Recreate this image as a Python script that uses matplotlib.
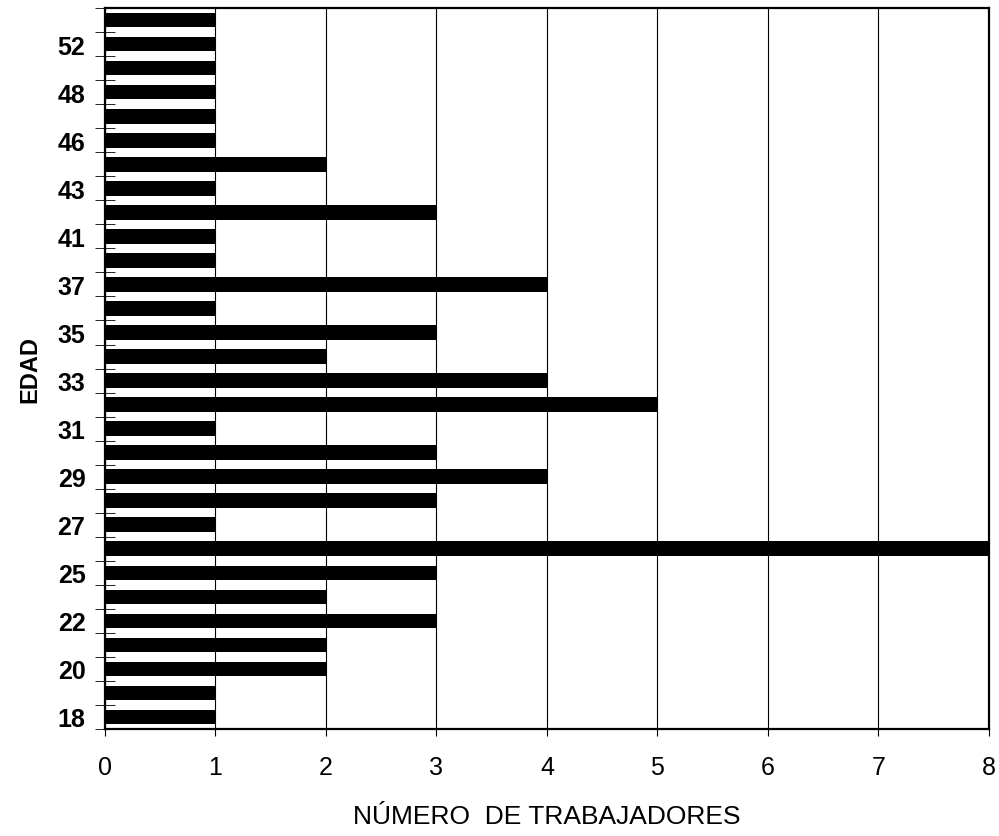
import matplotlib
matplotlib.use('Agg')
from matplotlib import pyplot as plt
from matplotlib.ticker import FixedLocator

# edades (algunas etiquetas no se ven en el original, se suponen)
edades = [18, 19, 20, 21, 22, 23, 25, 26, 27, 28, 29, 30, 31, 32, 33,
          34, 35, 36, 37, 39, 41, 42, 43, 44, 46, 47, 48, 50, 52, 53]
trabajadores = [1, 1, 2, 2, 3, 2, 3, 8, 1, 3, 4, 3, 1, 5, 4,
                2, 3, 1, 4, 1, 1, 3, 1, 2, 1, 1, 1, 1, 1, 1]
x_ticks = [0, 1, 2, 3, 4, 5, 6, 7, 8]

plt.rcParams['font.family'] = ['Liberation Sans', 'DejaVu Sans']

fig = plt.figure(figsize=(9.99, 8.37), dpi=100)
ax = fig.add_axes([0.105, 0.128, 0.885, 0.861])

pos = list(range(len(edades)))
ax.barh(pos, trabajadores, height=0.6, color='black', zorder=3)

ax.set_xlim(0, 8)
ax.set_ylim(-0.5, len(edades) - 0.5)
ax.set_xticks(x_ticks)
ax.xaxis.grid(True, color='black', linewidth=0.8, zorder=1)
ax.tick_params(axis='x', direction='out', length=5, labelsize=18, pad=14)

# etiquetas cada dos categorias
ax.set_yticks(pos[::2])
ax.set_yticklabels([str(e) for e in edades[::2]], fontweight='bold', fontsize=18)
ax.tick_params(axis='y', which='major', length=0, pad=14)
ax.yaxis.set_minor_locator(FixedLocator([p - 0.5 for p in pos] + [len(edades) - 0.5]))
ax.tick_params(axis='y', which='minor', direction='inout', length=14)

for s in ax.spines.values():
    s.set_linewidth(1.6)

ax.set_xlabel('NÚMERO  DE TRABAJADORES', fontsize=19, labelpad=18)
ax.set_ylabel('EDAD', fontsize=17, fontweight='bold', labelpad=12)

fig.savefig('out.png', dpi=100)
